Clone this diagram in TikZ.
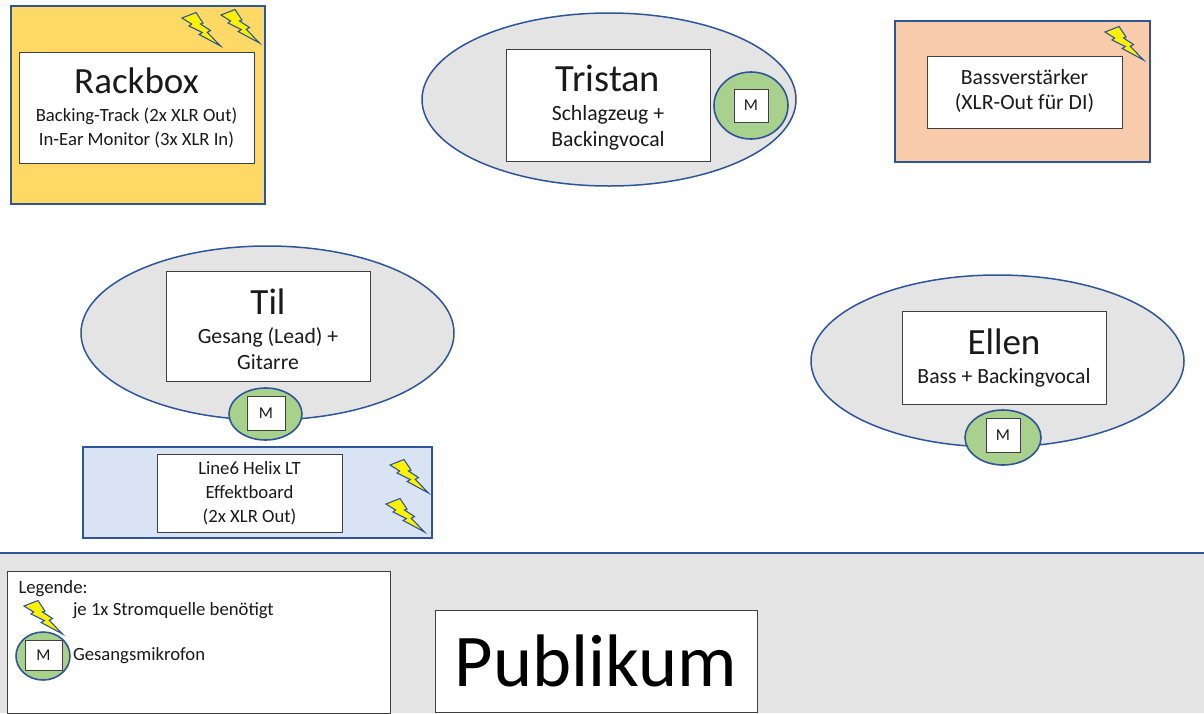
\documentclass[tikz,border=0pt]{standalone}
\usepackage{fontspec}
\setmainfont{Carlito}
\usetikzlibrary{shapes.geometric}
\definecolor{edgeblue}{HTML}{2F5597}
\definecolor{panelgray}{HTML}{E4E4E4}
\definecolor{rackyellow}{HTML}{FFD966}
\definecolor{bassorange}{HTML}{F8CBAD}
\definecolor{helixblue}{HTML}{DAE3F3}
\definecolor{micgreen}{HTML}{A9D18E}
\definecolor{boxedge}{HTML}{404040}
\definecolor{inktext}{HTML}{1A1A1A}
\newcommand\titlefont{\fontsize{37}{40}\selectfont}
\newcommand\subfont{\fontsize{18.7}{24}\selectfont}
\newcommand\largesub{\fontsize{21.7}{26}\selectfont}
\tikzset{
  base/.style={inner sep=0pt,outer sep=0pt,align=center,text=inktext,font=\subfont},
  panel/.style={base,rectangle,draw=edgeblue,line width=1.5pt},
  person/.style={base,ellipse,draw=edgeblue,line width=1.5pt,fill=panelgray},
  mic/.style={base,ellipse,draw=edgeblue,line width=1.6pt,fill=micgreen},
  whitebox/.style={base,rectangle,draw=boxedge,line width=0.9pt,fill=white},
  bigbox/.style={whitebox,font=\largesub},
  bigtext/.style={base,font=\largesub},
  micbox/.style={whitebox,font=\fontsize{16.5}{18}\selectfont},
  free/.style={base,text=inktext,anchor=base west},
  bolt/.pic={
    \draw[edgeblue,line width=1.1pt,fill=yellow,line join=miter]
      (0,5)--(14,-0.5)--(21,10)--(18.5,11)--(28.5,17.5)--(25.3,19.3)--(38.5,33)
      --(17.2,21.5)--(20.3,19.5)--(7,13)--(9.6,11)--cycle;
  }
}
% \bx{name}{style}{x1}{y1}{x2}{y2}{text}
\newcommand\bx[7]{%
  \pgfmathsetmacro\bxw{#5-#3}\pgfmathsetmacro\bxh{#6-#4}%
  \pgfmathsetmacro\bxx{(#3+#5)/2}\pgfmathsetmacro\bxy{(#4+#6)/2}%
  \node[#2,minimum width=\bxw pt,minimum height=\bxh pt] (#1) at (\bxx,\bxy) {#7};%
}
\begin{document}
\begin{tikzpicture}[x=1pt,y=-1pt]
\useasboundingbox (0,0) rectangle (1204,713);
\fill[white] (0,0) rectangle (1204,713);
% audience strip
\bx{strip}{base,fill=panelgray}{0}{553}{1204}{713}{}
\draw[edgeblue,line width=1.2pt] (strip.north west) -- (strip.north east);
% Rackbox
\bx{rack}{panel,fill=rackyellow}{11}{6}{265}{204}{}
\bx{rackin}{whitebox}{19}{52.5}{254}{163.5}{\titlefont Rackbox\\[4pt]Backing-Track (2x XLR Out)\\In-Ear Monitor (3x XLR In)}
\path (182,13) pic {bolt} (221,10) pic {bolt};
% Tristan
\bx{tristan}{person}{422}{13}{796}{186}{}
\bx{tristanin}{whitebox}{506}{49.5}{710}{161}{}
\node[bigtext] (tristantext) at (608,108) {\fontsize{38.5}{40}\selectfont Tristan\\[3pt]Schlagzeug +\\Backingvocal};
\bx{tristanmic}{mic}{714}{72}{788}{139}{}
\bx{tristanm}{micbox}{734}{89}{768}{122}{M}
% Bass
\bx{bass}{panel,fill=bassorange}{895}{21}{1150}{162}{}
\bx{bassin}{whitebox}{927}{56.5}{1122}{128}{}
\node[bigtext,font=\fontsize{21.7}{25}\selectfont] (basstext) at (1024.5,91) {Bassverstärker\\(XLR-Out für DI)};
\path (1105,27) pic {bolt};
% Til
\bx{til}{person}{81}{246}{454}{420}{}
\bx{tilin}{whitebox}{166}{271.5}{370}{381}{}
\node[bigtext] (tiltext) at (268,329) {\titlefont Til\\[3pt]Gesang (Lead) +\\Gitarre};
\bx{tilmic}{mic}{229}{388}{302}{440}{}
\bx{tilm}{micbox}{247}{396}{285}{430}{M}
% Helix
\bx{helix}{panel,fill=helixblue}{83}{447}{432}{538}{}
\bx{helixin}{whitebox}{157}{454}{342}{532}{Line6 Helix LT\\Effektboard\\(2x XLR Out)}
\path (390,460) pic {bolt} (386,499) pic {bolt};
% Ellen
\bx{ellen}{person}{811}{275}{1184}{447}{}
\bx{ellenin}{bigbox}{902}{311.5}{1106}{404}{\titlefont Ellen\\[3pt]Bass + Backingvocal}
\bx{ellenmic}{mic}{965}{410}{1041}{465}{}
\bx{ellenm}{micbox}{986}{418}{1020}{452}{M}
% Legend
\bx{legend}{whitebox}{7}{571}{390}{713}{}
\node[free] (legtitle) at (18.5,593) {Legende:};
\path (24,601) pic {bolt};
\node[free] (legbolt) at (73,615) {je 1x Stromquelle benötigt};
\bx{legmic}{mic}{16}{632}{70}{680}{}
\bx{legm}{micbox}{25}{640}{62}{670}{M}
\node[free] (legmictext) at (73,660) {Gesangsmikrofon};
% Publikum
\bx{pub}{whitebox,text=black}{435}{610}{757}{712}{\fontsize{74.4}{80}\selectfont Publikum}
\end{tikzpicture}
\end{document}
